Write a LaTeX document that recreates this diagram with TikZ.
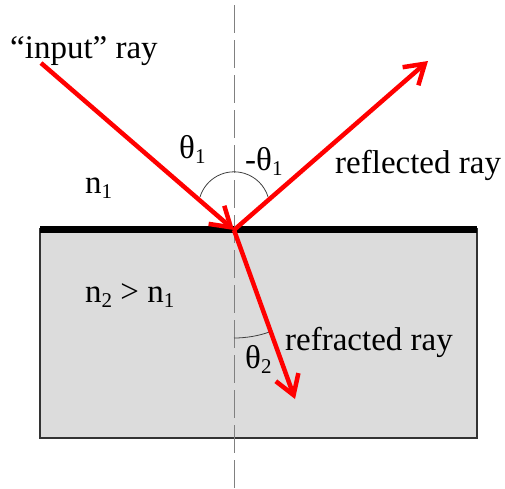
\documentclass[tikz,border=0pt]{standalone}
\usepackage{fontspec}
\setmainfont{Liberation Serif}
\usetikzlibrary{arrows.meta,calc}
\definecolor{slabgray}{RGB}{220,220,220}
\newcommand{\subidx}[1]{\raisebox{-5pt}{\fontsize{21}{21}\selectfont #1}}

\begin{document}
\begin{tikzpicture}[x=1pt, y=-1pt, >={Straight Barb[length=19pt,width=24pt]},
    ray/.style={->, draw=red, line width=4.5pt},
    lbl/.style={font=\fontsize{33}{36}\selectfont, inner sep=0pt, anchor=base west},
    anglearc/.style={draw=black!75, line width=0.8pt}]
        \useasboundingbox (0,0) rectangle (505,488);
        % Medium 2: glass slab with its surface
        \draw[fill=slabgray, draw=black!80, line width=1.2pt] (40,229) rectangle (477,438);
        \draw[line width=7.5pt] (40,229.5) -- (477,229.5);
        
        % Normal to the surface
        \coordinate (hit) at (234,230);
        \coordinate (normtop) at (234,5);
        \coordinate (normbot) at (234,488);
        \draw[gray, line width=0.7pt, dash pattern=on 28pt off 7pt] (normtop) -- (normbot);
        
        % Angle arcs
        \draw[anglearc] ($(hit)+(-34,-33)$) arc[start angle=-163, end angle=-17, radius=35.6];
        \draw[anglearc] ($(hit)+(0,108)$) arc[start angle=90, end angle=70.3, radius=108];
        
        % Rays
        \coordinate (instart) at (41,63);
        \coordinate (refltip) at (428,61);
        \coordinate (refrtip) at (295,399);
        \draw[ray] (instart) -- (hit);
        \draw[ray] (hit) -- (refltip);
        \draw[ray] (hit) -- (refrtip);
        
        % Labels
        \node[lbl] (inlabel) at (10,58) {“input” ray};
        \node[lbl] (refllabel) at (335,173) {reflected ray};
        \node[lbl] (refrlabel) at (285,350) {refracted ray};
        \node[lbl] (thetaone) at (179,158) {θ\subidx{1}};
        \node[lbl] (thetarefl) at (245,170) {-θ\subidx{1}};
        \node[lbl] (thetatwo) at (245,368) {θ\subidx{2}};
        \node[lbl] (none) at (85,193) {n\subidx{1}};
        \node[lbl] (ntwo) at (85,302) {n\subidx{2} > n\subidx{1}};
    \end{tikzpicture}
\end{document}
